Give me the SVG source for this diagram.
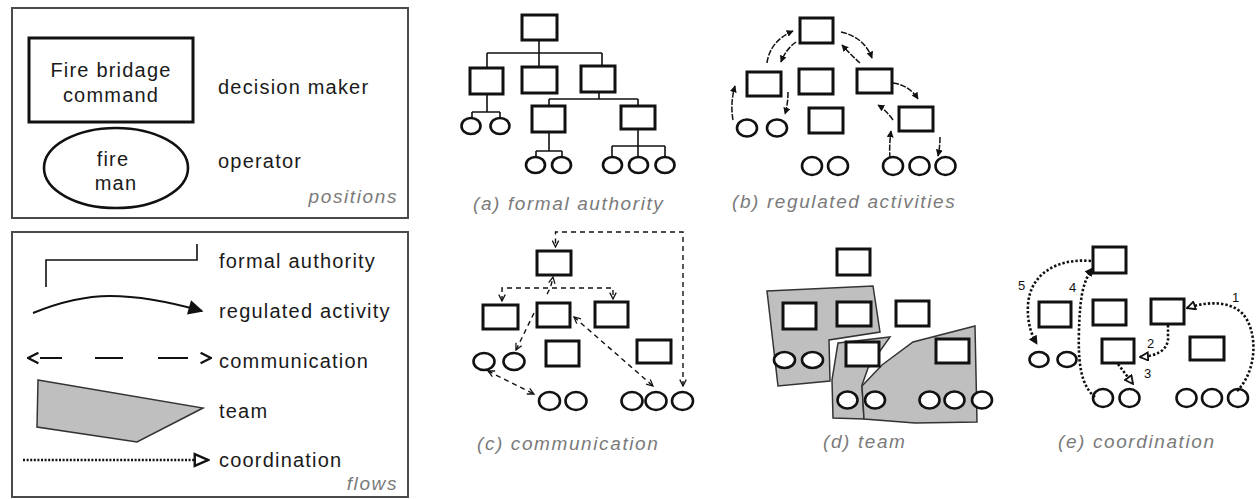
<svg xmlns="http://www.w3.org/2000/svg" width="1256" height="499" viewBox="0 0 1256 499">
  <style>
    .frame{fill:#fff;stroke:#4a4a4a;stroke-width:2}
    .box{fill:#fff;stroke:#111;stroke-width:3}
    .op{fill:#fff;stroke:#111;stroke-width:2.6}
    .tree{fill:none;stroke:#111;stroke-width:1.6}
    .reg{fill:none;stroke:#111;stroke-width:1.5;stroke-dasharray:6 1.5;marker-end:url(#headFill)}
    .comm{fill:none;stroke:#111;stroke-width:1.4;stroke-dasharray:5 4}
    .coord{fill:none;stroke:#111;stroke-width:2.6;stroke-dasharray:2.4 2}
    .team{fill:#bfbfbf;stroke:#333;stroke-width:1.5}
    .lbl{font-family:"Liberation Sans",Arial,sans-serif;font-size:20px;letter-spacing:1.2px;fill:#1a1a1a}
    .cap{font-family:"Liberation Sans",Arial,sans-serif;font-style:italic;font-size:19px;letter-spacing:1.6px;fill:#7a7a7a}
    .num{font-family:"Liberation Sans",Arial,sans-serif;font-size:13px;fill:#111}
  </style>
  <defs>
    <marker id="headFill" viewBox="0 0 10 10" refX="9" refY="5" markerWidth="7" markerHeight="7" markerUnits="userSpaceOnUse" orient="auto">
      <path d="M0,0 L10,5 L0,10 z" fill="#111"/>
    </marker>
    <marker id="headBig" viewBox="0 0 10 10" refX="9" refY="5" markerWidth="17" markerHeight="15" markerUnits="userSpaceOnUse" orient="auto">
      <path d="M0,0 L10,5 L0,10 z" fill="#111"/>
    </marker>
    <marker id="chev" viewBox="0 0 10 10" refX="9" refY="5" markerWidth="8" markerHeight="8" markerUnits="userSpaceOnUse" orient="auto-start-reverse">
      <path d="M1,1 L9,5 L1,9" fill="none" stroke="#111" stroke-width="1.6"/>
    </marker>
    <marker id="chevBig" viewBox="0 0 10 10" refX="9" refY="5" markerWidth="13" markerHeight="13" markerUnits="userSpaceOnUse" orient="auto-start-reverse">
      <path d="M1,1 L9,5 L1,9" fill="none" stroke="#111" stroke-width="1.8"/>
    </marker>
    <marker id="tri" viewBox="0 0 10 10" refX="9" refY="5" markerWidth="10" markerHeight="10" markerUnits="userSpaceOnUse" orient="auto">
      <path d="M1,1 L9,5 L1,9 z" fill="#fff" stroke="#111" stroke-width="1.8"/>
    </marker>
    <marker id="triBig" viewBox="0 0 10 10" refX="9" refY="5" markerWidth="17" markerHeight="17" markerUnits="userSpaceOnUse" orient="auto">
      <path d="M1.2,1.5 L9,5 L1.2,8.5 z" fill="#fff" stroke="#111" stroke-width="1.4"/>
    </marker>
    <marker id="triFill" viewBox="0 0 10 10" refX="9" refY="5" markerWidth="9" markerHeight="9" markerUnits="userSpaceOnUse" orient="auto">
      <path d="M0,0 L10,5 L0,10 z" fill="#111"/>
    </marker>
  </defs>
  <rect width="1256" height="499" fill="#fff"/>

  <!-- legend: positions -->
  <g id="legend-positions">
    <rect class="frame" x="12" y="8" width="396" height="210"/>
    <g id="leg-decision-maker">
      <rect class="box" x="29" y="38" width="164" height="84"/>
      <text class="lbl" x="111" y="77" text-anchor="middle">Fire bridage</text>
      <text class="lbl" x="111" y="102" text-anchor="middle">command</text>
    </g>
    <text class="lbl" x="218" y="94">decision maker</text>
    <g id="leg-operator">
      <ellipse class="op" cx="116" cy="168" rx="72" ry="40"/>
      <text class="lbl" x="113" y="166" text-anchor="middle">fire</text>
      <text class="lbl" x="116" y="190" text-anchor="middle">man</text>
    </g>
    <text class="lbl" x="218" y="168">operator</text>
    <text class="cap" x="398" y="203" text-anchor="end">positions</text>
  </g>

  <!-- legend: flows -->
  <g id="legend-flows">
    <rect class="frame" x="12" y="232" width="396" height="265"/>
    <path class="tree" d="M46,287 V260 H197 V244" stroke-width="2.2"/>
    <text class="lbl" x="219" y="268">formal authority</text>
    <path d="M33,313 C60,302 85,296 110,296 C140,296 170,302 202,311" fill="none" stroke="#111" stroke-width="2" marker-end="url(#headBig)"/>
    <text class="lbl" x="219" y="318">regulated activity</text>
    <path d="M28,358 H211" fill="none" stroke="#111" stroke-width="2" stroke-dasharray="0 12 22 33 28 35 30 40" marker-start="url(#chevBig)" marker-end="url(#chevBig)"/>
    <text class="lbl" x="219" y="368">communication</text>
    <polygon class="team" points="38,380 203,408 137,442 37,427" stroke="#111" stroke-width="2"/>
    <text class="lbl" x="219" y="418">team</text>
    <path d="M23,460 H208" fill="none" stroke="#111" stroke-width="2.4" stroke-dasharray="2 1.6" marker-end="url(#triBig)"/>
    <text class="lbl" x="219" y="467">coordination</text>
    <text class="cap" x="398" y="490" text-anchor="end">flows</text>
  </g>

  <!-- (a) formal authority -->
  <g id="panel-a">
    <g id="a-connectors">
      <path class="tree" d="M539,40 V53 M487,53 H602 M487,53 V68 M539,53 V67 M602,53 V66"/>
      <path class="tree" d="M487,94 V112 M472,112 H500 M472,112 V118 M500,112 V118"/>
      <path class="tree" d="M599,92 V99 M549,99 H638 M549,99 V106 M638,99 V106"/>
      <path class="tree" d="M549,132 V151 M536,151 H562 M536,151 V157 M562,151 V157"/>
      <path class="tree" d="M638,129 V146 M612,146 H665 M612,146 V157 M638,146 V157 M665,146 V157"/>
    </g>
    <g id="a-d1"><rect class="box" x="522" y="15" width="35" height="25"/></g>
    <g id="a-d2"><rect class="box" x="470" y="68" width="33" height="26"/></g>
    <g id="a-d3"><rect class="box" x="522" y="67" width="35" height="26"/></g>
    <g id="a-d4"><rect class="box" x="581" y="66" width="34" height="26"/></g>
    <g id="a-d5"><rect class="box" x="532" y="106" width="33" height="26"/></g>
    <g id="a-d6"><rect class="box" x="621" y="106" width="34" height="23"/></g>
    <g id="a-o1"><ellipse class="op" cx="471" cy="126" rx="9.5" ry="8"/></g>
    <g id="a-o2"><ellipse class="op" cx="500" cy="126" rx="9.5" ry="8"/></g>
    <g id="a-o3"><ellipse class="op" cx="535.5" cy="165" rx="9.5" ry="8"/></g>
    <g id="a-o4"><ellipse class="op" cx="561.5" cy="165" rx="9.5" ry="8"/></g>
    <g id="a-o5"><ellipse class="op" cx="612.5" cy="165" rx="9.5" ry="8"/></g>
    <g id="a-o6"><ellipse class="op" cx="638.5" cy="165" rx="9.5" ry="8"/></g>
    <g id="a-o7"><ellipse class="op" cx="665" cy="165" rx="9.5" ry="8"/></g>
    <text class="cap" x="473" y="210">(a) formal authority</text>
  </g>

  <!-- (b) regulated activities -->
  <g id="panel-b">
    <g id="b-d1"><rect class="box" x="800" y="18" width="33" height="25"/></g>
    <g id="b-d2"><rect class="box" x="747" y="72" width="34" height="24"/></g>
    <g id="b-d3"><rect class="box" x="799" y="69" width="34" height="25"/></g>
    <g id="b-d4"><rect class="box" x="857" y="69" width="35" height="24"/></g>
    <g id="b-d5"><rect class="box" x="809" y="108" width="34" height="25"/></g>
    <g id="b-d6"><rect class="box" x="899" y="107" width="34" height="24"/></g>
    <g id="b-o1"><ellipse class="op" cx="747" cy="128" rx="10" ry="8.5"/></g>
    <g id="b-o2"><ellipse class="op" cx="777" cy="128" rx="10" ry="8.5"/></g>
    <g id="b-o3"><ellipse class="op" cx="812" cy="166" rx="10" ry="9"/></g>
    <g id="b-o4"><ellipse class="op" cx="838" cy="166" rx="10" ry="9"/></g>
    <g id="b-o5"><ellipse class="op" cx="893" cy="166" rx="10" ry="9"/></g>
    <g id="b-o6"><ellipse class="op" cx="919.5" cy="166" rx="10" ry="9"/></g>
    <g id="b-o7"><ellipse class="op" cx="945.5" cy="166" rx="10" ry="9"/></g>
    <g id="b-connectors">
      <path class="reg" d="M767,63 Q770,41 793,31"/>
      <path class="reg" d="M796,42 Q786,49 781,62"/>
      <path class="reg" d="M841,32 Q864,37 872,58"/>
      <path class="reg" d="M860,63 Q851,55 842,45"/>
      <path class="reg" d="M893,83 Q909,85 918,99"/>
      <path class="reg" d="M893,120 Q886,110 878,105"/>
      <path class="reg" d="M733,120 Q730,103 735,86"/>
      <path class="reg" d="M788,92 Q788,104 785,114"/>
      <path class="reg" d="M890,158 Q889,146 891,131"/>
      <path class="reg" d="M940,137 Q940,147 938,156"/>
    </g>
    <text class="cap" x="732" y="208">(b) regulated activities</text>
  </g>

  <!-- (c) communication -->
  <g id="panel-c">
    <g id="c-d1"><rect class="box" x="537" y="251" width="34" height="24"/></g>
    <g id="c-d2"><rect class="box" x="483" y="305" width="35" height="24"/></g>
    <g id="c-d3"><rect class="box" x="537" y="303" width="33" height="24"/></g>
    <g id="c-d4"><rect class="box" x="595" y="302" width="33" height="25"/></g>
    <g id="c-d5"><rect class="box" x="546" y="341" width="33" height="25"/></g>
    <g id="c-d6"><rect class="box" x="637" y="340" width="34" height="23"/></g>
    <g id="c-o1"><ellipse class="op" cx="484" cy="361.5" rx="10.5" ry="8.5"/></g>
    <g id="c-o2"><ellipse class="op" cx="514" cy="361.5" rx="10.5" ry="8.5"/></g>
    <g id="c-o3"><ellipse class="op" cx="549.5" cy="401" rx="10.5" ry="9"/></g>
    <g id="c-o4"><ellipse class="op" cx="576" cy="401" rx="10.5" ry="9"/></g>
    <g id="c-o5"><ellipse class="op" cx="632" cy="401" rx="10.5" ry="9"/></g>
    <g id="c-o6"><ellipse class="op" cx="656" cy="401" rx="10.5" ry="9"/></g>
    <g id="c-o7"><ellipse class="op" cx="682.5" cy="401" rx="10.5" ry="9"/></g>
    <g id="c-connectors">
      <path class="comm" d="M683,386 V232 H555.5 V247" marker-start="url(#chev)" marker-end="url(#chev)"/>
      <path class="comm" d="M502,301 V288 H613 V299" marker-start="url(#chev)" marker-end="url(#chev)"/>
      <path class="comm" d="M547,294 Q551,288 553,277" marker-end="url(#chev)"/>
      <path class="comm" d="M534,313 L516,350" marker-end="url(#chev)"/>
      <path class="comm" d="M574,317 L653,386" marker-start="url(#chev)" marker-end="url(#chev)"/>
      <path class="comm" d="M488,371 L534,394" marker-start="url(#chev)" marker-end="url(#chev)"/>
    </g>
    <text class="cap" x="477" y="450">(c) communication</text>
  </g>

  <!-- (d) team -->
  <g id="panel-d">
    <g id="d-teams">
      <polygon class="team" points="767,291 873,286 880,332 829,340 830,381 778,386"/>
      <polygon class="team" points="838,343 890,337 868,368 862,385 864,419 833,418 832,380"/>
      <polygon class="team" points="862,386 882,365 913,342 975,326 977,422 915,423 864,419"/>
    </g>
    <g id="d-d1"><rect class="box" x="837" y="249" width="33" height="26"/></g>
    <g id="d-d2"><rect class="box" x="783" y="303" width="33" height="26"/></g>
    <g id="d-d3"><rect class="box" x="837" y="302" width="34" height="24"/></g>
    <g id="d-d4"><rect class="box" x="896" y="301" width="33" height="25"/></g>
    <g id="d-d5"><rect class="box" x="846" y="342" width="33" height="24"/></g>
    <g id="d-d6"><rect class="box" x="936" y="339" width="33" height="24"/></g>
    <g id="d-o1"><ellipse class="op" cx="784.5" cy="360" rx="10.5" ry="8"/></g>
    <g id="d-o2"><ellipse class="op" cx="812.5" cy="360" rx="10.5" ry="8"/></g>
    <g id="d-o3"><ellipse class="op" cx="847.5" cy="400" rx="10" ry="8.5"/></g>
    <g id="d-o4"><ellipse class="op" cx="875" cy="400" rx="10" ry="8.5"/></g>
    <g id="d-o5"><ellipse class="op" cx="929.5" cy="400" rx="10" ry="8.5"/></g>
    <g id="d-o6"><ellipse class="op" cx="954.5" cy="400" rx="10" ry="8.5"/></g>
    <g id="d-o7"><ellipse class="op" cx="982" cy="400" rx="10" ry="8.5"/></g>
    <text class="cap" x="823" y="448">(d) team</text>
  </g>

  <!-- (e) coordination -->
  <g id="panel-e">
    <g id="e-d1"><rect class="box" x="1093" y="247" width="33" height="26"/></g>
    <g id="e-d2"><rect class="box" x="1039" y="302" width="32" height="25"/></g>
    <g id="e-d3"><rect class="box" x="1093" y="300" width="33" height="25"/></g>
    <g id="e-d4"><rect class="box" x="1151" y="299" width="33" height="25"/></g>
    <g id="e-d5"><rect class="box" x="1102" y="339" width="32" height="24"/></g>
    <g id="e-d6"><rect class="box" x="1190" y="337" width="34" height="23"/></g>
    <g id="e-o1"><ellipse class="op" cx="1039" cy="359.5" rx="9.5" ry="7.5"/></g>
    <g id="e-o2"><ellipse class="op" cx="1067" cy="359.5" rx="9.5" ry="7.5"/></g>
    <g id="e-o3"><ellipse class="op" cx="1103" cy="398" rx="10" ry="9"/></g>
    <g id="e-o4"><ellipse class="op" cx="1129.5" cy="398" rx="10" ry="9"/></g>
    <g id="e-o5"><ellipse class="op" cx="1186.5" cy="398" rx="10" ry="9"/></g>
    <g id="e-o6"><ellipse class="op" cx="1212" cy="398" rx="10" ry="9"/></g>
    <g id="e-o7"><ellipse class="op" cx="1238" cy="398" rx="10" ry="9"/></g>
    <g id="e-connectors">
      <path class="coord" d="M1237,391 C1258,370 1258,330 1242,313 C1228,300 1205,302 1187,308" marker-end="url(#tri)"/>
      <path class="coord" d="M1168,325 V340 C1166,352 1155,356 1140,357" marker-end="url(#tri)"/>
      <path class="coord" d="M1118,364 L1133,384" marker-end="url(#tri)"/>
      <path class="coord" d="M1095,397 C1080,385 1078,360 1079,330 C1080,300 1082,282 1093,268" marker-end="url(#triFill)"/>
      <path class="coord" d="M1091,261 C1060,258 1030,272 1028,305 C1027,322 1031,334 1037,344" marker-end="url(#triFill)"/>
    </g>
    <text class="num" x="1232" y="302">1</text>
    <text class="num" x="1147" y="348">2</text>
    <text class="num" x="1144" y="378">3</text>
    <text class="num" x="1069" y="292">4</text>
    <text class="num" x="1018" y="290">5</text>
    <text class="cap" x="1058" y="448">(e) coordination</text>
  </g>
</svg>
